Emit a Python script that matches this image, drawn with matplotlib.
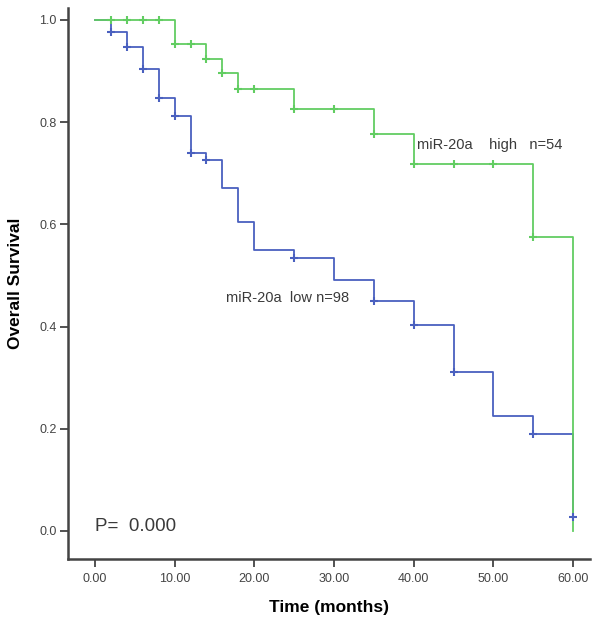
import matplotlib
matplotlib.use("Agg")
import matplotlib.pyplot as plt

plt.rcParams['font.family'] = ['Liberation Sans', 'DejaVu Sans']

# --- data ---
high_t = [0, 10, 14, 16, 18, 25, 35, 40, 55, 60]
high_s = [1.0, 0.952, 0.924, 0.896, 0.864, 0.826, 0.777, 0.718, 0.575, 0.0]
high_cens_t = [2, 4, 6, 8, 10, 12, 14, 16, 18, 20, 25, 30, 35, 40, 45, 50, 55]

low_t = [0, 2, 4, 6, 8, 10, 12, 14, 16, 18, 20, 25, 30, 35, 40, 45, 50, 55, 60]
low_s = [1.0, 0.977, 0.946, 0.903, 0.847, 0.812, 0.739, 0.726, 0.672, 0.604,
         0.549, 0.535, 0.491, 0.449, 0.403, 0.311, 0.225, 0.190, 0.028]
low_cens_t = [2, 4, 6, 8, 10, 12, 14, 25, 35, 40, 45, 55, 60]

x_ticks = [0, 10, 20, 30, 40, 50, 60]
y_ticks = [0.0, 0.2, 0.4, 0.6, 0.8, 1.0]

GREEN = '#62cd62'
BLUE = '#4a60bf'


def surv_at(t, times, surv):
    # step value right after time t
    val = surv[0]
    for tt, ss in zip(times, surv):
        if tt <= t:
            val = ss
    return val


fig = plt.figure(figsize=(6, 6.24), dpi=100)
ax = fig.add_axes([0.113, 0.104, 0.87, 0.883])

ax.step(low_t, low_s, where='post', color=BLUE, lw=1.3, zorder=2)
ax.step(high_t, high_s, where='post', color=GREEN, lw=1.3, zorder=3)

ax.plot(high_cens_t, [surv_at(t, high_t, high_s) for t in high_cens_t],
        ls='none', marker='+', ms=6, mew=1.5, color=GREEN, zorder=4)
ax.plot(low_cens_t, [surv_at(t, low_t, low_s) for t in low_cens_t],
        ls='none', marker='+', ms=6, mew=1.5, color=BLUE, zorder=5)

ax.text(40.4, 0.755, 'miR-20a    high   n=54', fontsize=10.5, color='#3a3a3a', va='center')
ax.text(16.5, 0.455, 'miR-20a  low n=98', fontsize=10.5, color='#3a3a3a', va='center')
ax.text(0.0, 0.008, 'P=  0.000', fontsize=13.5, color='#3a3a3a', va='center')

ax.set_xlim(-3.4, 62.1)
ax.set_ylim(-0.055, 1.023)
ax.set_xticks(x_ticks)
ax.set_xticklabels([f'{v:.2f}' for v in x_ticks])
ax.set_yticks(y_ticks)
ax.set_yticklabels([f'{v:.1f}' for v in y_ticks])

for side in ['top', 'right']:
    ax.spines[side].set_visible(False)
for side in ['left', 'bottom']:
    ax.spines[side].set_linewidth(1.8)
    ax.spines[side].set_color('#444444')

ax.tick_params(axis='both', labelsize=9, colors='#444444', width=1.3, length=6, pad=2)
ax.tick_params(axis='x', pad=4)

ax.set_xlabel('Time (months)', fontsize=12.5, fontweight='bold', labelpad=11)
ax.set_ylabel('Overall Survival', fontsize=12.5, fontweight='bold', labelpad=12)

fig.savefig('out.png', dpi=100)
